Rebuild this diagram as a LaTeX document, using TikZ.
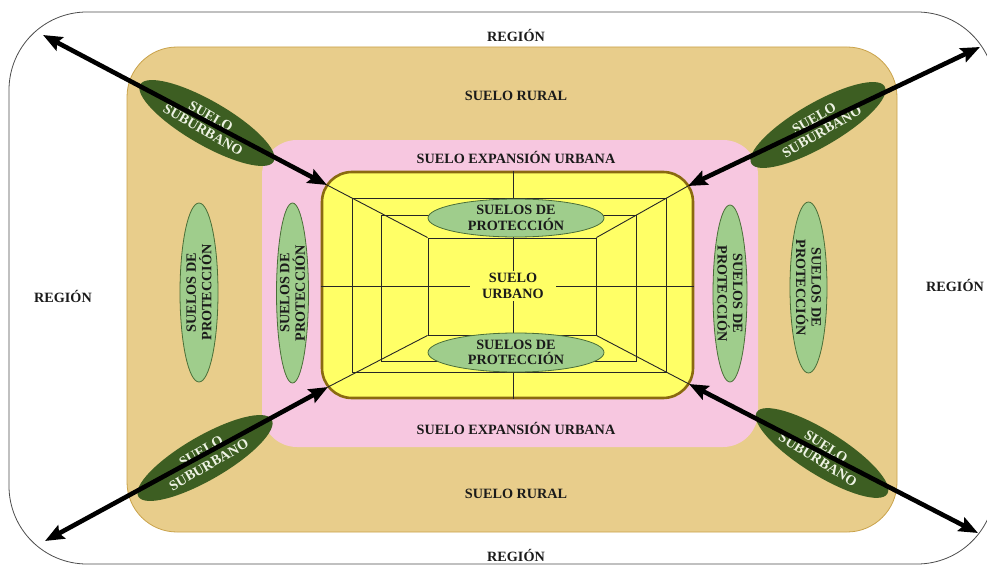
\documentclass[tikz,border=0pt]{standalone}
\usepackage{fontspec}
\setmainfont{Liberation Serif}
\usetikzlibrary{shapes.geometric,arrows.meta}

\definecolor{rural}{HTML}{E8CD8B}
\definecolor{ruraledge}{HTML}{C9A24A}
\definecolor{expan}{HTML}{F7C7E0}
\definecolor{urb}{HTML}{FFFF66}
\definecolor{urbedge}{HTML}{8A6A10}
\definecolor{prot}{HTML}{9FCD8C}
\definecolor{protedge}{HTML}{4A6E38}
\definecolor{subur}{HTML}{3D5E22}
\definecolor{suburtxt}{HTML}{EEF3E4}
\definecolor{ink}{HTML}{1A1A1A}

\tikzset{
  zone/.style={rectangle, inner sep=0pt},
  lbl/.style={font=\bfseries\fontsize{14.2}{15.5}\selectfont, text=ink, align=center, inner sep=0pt},
  sublbl/.style={lbl, text=suburtxt},
  protshape/.style={ellipse, fill=prot, draw=protedge, line width=0.8pt, inner sep=0pt},
  subshape/.style={ellipse, fill=subur, draw=none, inner sep=0pt,
                   minimum width=154pt, minimum height=44pt},
  gridline/.style={line width=0.9pt, draw=black!85},
  dblarrow/.style={line width=4.6pt,
                   {Stealth[length=19pt,width=15pt,inset=3pt]}-{Stealth[length=19pt,width=15pt,inset=3pt]}},
}

\begin{document}
\begin{tikzpicture}[x=1pt,y=-1pt]
\useasboundingbox (0,0) rectangle (987,567);

% nested land zones
\node[zone, draw=black!70, line width=0.8pt, rounded corners=78pt,
      minimum width=986pt, minimum height=552pt] (reg) at (502,288) {};
\node[zone, fill=rural, draw=ruraledge, line width=0.8pt, rounded corners=50pt,
      minimum width=770pt, minimum height=485pt] (rur) at (512,289.5) {};
\node[zone, fill=expan, rounded corners=35pt,
      minimum width=496pt, minimum height=307pt] (exp) at (510,293.5) {};
\node[zone, fill=urb, draw=urbedge, line width=2.6pt, rounded corners=30pt,
      minimum width=371pt, minimum height=226pt] (yel) at (507.5,285) {};

% corner points of the urban block
\coordinate (ytl) at (327,185);
\coordinate (ytr) at (688,186);
\coordinate (ybl) at (328,387);
\coordinate (ybr) at (689,384);

% perspective frames inside the urban block
\node[zone, draw=black!85, line width=0.9pt, minimum width=314pt, minimum height=174pt] (r1) at (509,285) {};
\node[zone, draw=black!85, line width=0.9pt, minimum width=255pt, minimum height=146pt] (r2) at (508.5,288) {};
\node[zone, draw=black!85, line width=0.9pt, minimum width=168pt, minimum height=97pt] (r3) at (512,286.5) {};

\coordinate (ctr) at (513,286);
\draw[gridline] (ytl) -- (r3.north west);
\draw[gridline] (ytr) -- (r3.north east);
\draw[gridline] (ybl) -- (r3.south west);
\draw[gridline] (ybr) -- (r3.south east);
\draw[gridline] (yel.north -| ctr) -- (yel.south -| ctr);
\draw[gridline] (yel.west |- ctr) -- (yel.east |- ctr);

\node[lbl, fill=urb, inner xsep=12pt, inner ysep=2pt] (urbano) at (ctr) {SUELO\\URBANO};

% protection zones inside the urban block
\node[protshape, minimum width=176pt, minimum height=38pt] (pt) at (516,218) {};
\node[lbl] at (pt) {SUELOS DE\\PROTECCIÓN};
\node[protshape, minimum width=176pt, minimum height=39pt] (pb) at (516,352.5) {};
\node[lbl] at (pb) {SUELOS DE\\PROTECCIÓN};

% vertical protection zones
\node[protshape, rotate=90, minimum width=179pt, minimum height=38pt] (pl1) at (199,292.5) {};
\node[lbl, rotate=90] at (pl1) {SUELOS DE\\PROTECCIÓN};
\node[protshape, rotate=90, minimum width=180pt, minimum height=32pt] (pl2) at (292.5,293) {};
\node[lbl, rotate=90] at (pl2) {SUELOS DE\\PROTECCIÓN};
\node[protshape, rotate=-90, minimum width=177pt, minimum height=34pt] (pr1) at (730,293.5) {};
\node[lbl, rotate=-90] at (pr1) {SUELOS DE\\PROTECCIÓN};
\node[protshape, rotate=-90, minimum width=171pt, minimum height=37pt] (pr2) at (808.5,287.5) {};
\node[lbl, rotate=-90] at (pr2) {SUELOS DE\\PROTECCIÓN};

% suburban zones
\node[subshape, rotate=-30] (stl) at (207,123) {};
\node[sublbl, rotate=-30] at (stl) {SUELO\\SUBURBANO};
\node[subshape, rotate=30] (str) at (818,125) {};
\node[sublbl, rotate=30] at (str) {SUELO\\SUBURBANO};
\node[subshape, rotate=30] (sbl) at (205,458) {};
\node[sublbl, rotate=30] at (sbl) {SUELO\\SUBURBANO};
\node[subshape, rotate=-32] (sbr) at (822,453) {};
\node[sublbl, rotate=-32] at (sbr) {SUELO\\SUBURBANO};

% zone titles
\node[lbl] (regT) at (516,35) {REGIÓN};
\node[lbl] (regB) at (516,555) {REGIÓN};
\node[lbl] (regL) at (63,296) {REGIÓN};
\node[lbl] (regR) at (955,285) {REGIÓN};
\node[lbl] (rurT) at (516,96) {SUELO RURAL};
\node[lbl] (rurB) at (516,494) {SUELO RURAL};
\node[lbl] (expT) at (516,157) {SUELO EXPANSIÓN URBANA};
\node[lbl] (expB) at (516,428) {SUELO EXPANSIÓN URBANA};

% growth arrows between the urban block and the region
\coordinate (otl) at (43,35);
\coordinate (otr) at (980,47);
\coordinate (obl) at (45,541);
\coordinate (obr) at (978,533);
\draw[dblarrow] (otl) -- (ytl);
\draw[dblarrow] (otr) -- (ytr);
\draw[dblarrow] (obl) -- (ybl);
\draw[dblarrow] (obr) -- (ybr);
\end{tikzpicture}
\end{document}
